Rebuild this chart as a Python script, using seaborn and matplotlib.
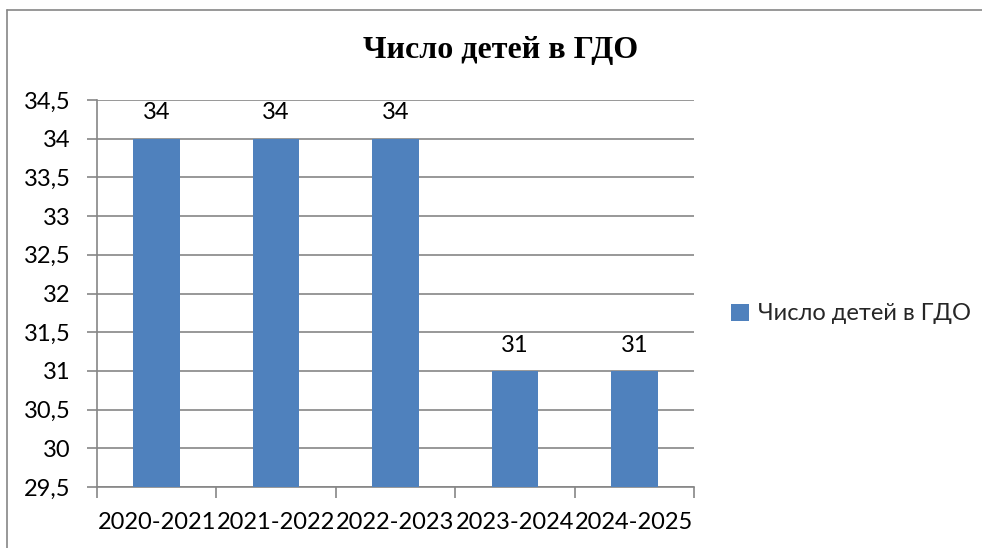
import matplotlib
matplotlib.use("Agg")
import matplotlib.pyplot as plt
import seaborn as sns
import pandas as pd
from matplotlib.patches import Patch
from matplotlib.lines import Line2D
from matplotlib.ticker import FixedLocator

categories = ["2020-2021", "2021-2022", "2022-2023", "2023-2024", "2024-2025"]
values = [34, 34, 34, 31, 31]
series_name = "Число детей в ГДО"
title = "Число детей в ГДО"
y_ticks = [29.5, 30, 30.5, 31, 31.5, 32, 32.5, 33, 33.5, 34, 34.5]

sns.set_theme(style="white")
plt.rcParams['font.family'] = ['Lato', 'DejaVu Sans']

BLUE = "#4F81BD"
GREY = "#868686"
FS = 17

df = pd.DataFrame({"cat": categories, "val": values})

fig = plt.figure(figsize=(9.82, 5.48), dpi=100)
ax = fig.add_axes([97/982, 61/548, 597/982, 387/548])

sns.barplot(data=df, x="cat", y="val", color=BLUE, width=0.39, ax=ax,
            saturation=1, edgecolor="none", zorder=3)
ax.set_ylim(29.5, 34.5)
ax.set_xlim(-0.5, len(categories) - 0.5)
ax.set_xlabel("")
ax.set_ylabel("")

ax.set_yticks(y_ticks)
ax.set_yticklabels([("%g" % t).replace(".", ",") for t in y_ticks], fontsize=FS, color="black")
ax.yaxis.grid(True, color=GREY, linewidth=1.2, zorder=0)
ax.set_axisbelow(True)
ax.tick_params(axis="y", which="major", length=7, width=1.2, color=GREY, direction="out", pad=12, left=True)

ax.tick_params(axis="x", which="major", length=0, labelsize=FS, labelcolor="black", pad=18)
ax.xaxis.set_minor_locator(FixedLocator([i - 0.5 for i in range(len(categories) + 1)]))
ax.tick_params(axis="x", which="minor", length=8, width=1.2, color=GREY, direction="out", bottom=True)

for s in ["top", "right"]:
    ax.spines[s].set_visible(False)
for s in ["left", "bottom"]:
    ax.spines[s].set_color(GREY)
    ax.spines[s].set_linewidth(1.2)

for cont in ax.containers:
    ax.bar_label(cont, labels=[str(v) for v in values], padding=11, fontsize=FS, color="black")

fig.text(501/982, 1 - 50/548, title, ha="center", va="center", fontsize=23,
         fontweight="bold", family="Liberation Serif", color="black")

handle = Patch(facecolor=BLUE, edgecolor="none")
fig.legend([handle], [series_name], loc="center left", bbox_to_anchor=(731/982, 1 - 314/548),
           frameon=False, fontsize=FS, handlelength=0.75, handleheight=0.75, handletextpad=0.4,
           borderaxespad=0, borderpad=0)

fig.add_artist(Line2D([7/982, 7/982], [0, 1 - 10/548], transform=fig.transFigure, color=GREY, linewidth=1.2))
fig.add_artist(Line2D([7/982, 1], [1 - 10/548, 1 - 10/548], transform=fig.transFigure, color=GREY, linewidth=1.2))

fig.savefig("out.png", dpi=100, facecolor="white")
